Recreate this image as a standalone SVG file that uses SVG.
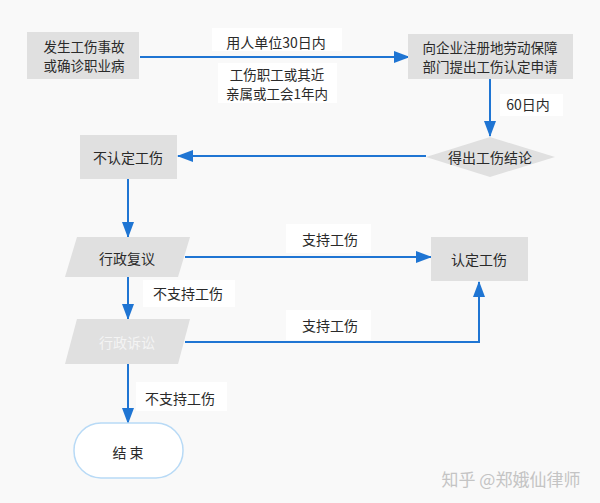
<svg xmlns="http://www.w3.org/2000/svg" width="600" height="503" viewBox="0 0 600 503">
<defs>
<style>
text{font-family:"Noto Sans CJK SC","Liberation Sans",sans-serif;font-size:14px;fill:#2a2a2a;text-anchor:middle;dominant-baseline:central}
.two{font-size:13.5px}
.node{fill:#e0e0e0}
.lblbg{fill:#ffffff}
.edge{fill:none;stroke:#1f75d3;stroke-width:2}
.wm{fill:#c4c4c4;font-size:17px}
.dim{fill:#f4f4f4}
</style>
<marker id="arr" markerUnits="userSpaceOnUse" markerWidth="16" markerHeight="12" refX="15" refY="6" orient="auto">
<path d="M0,0 L16,6 L0,12 Z" fill="#1f75d3"/>
</marker>
</defs>
<rect x="0" y="0" width="600" height="503" fill="#f9f9f9"/>
<g id="connectors">
<path class="edge" d="M140,57 H409" marker-end="url(#arr)"/>
<path class="edge" d="M490,79 V136" marker-end="url(#arr)"/>
<path class="edge" d="M426,156 H178" marker-end="url(#arr)"/>
<path class="edge" d="M128,179 V237" marker-end="url(#arr)"/>
<path class="edge" d="M185,257 H431" marker-end="url(#arr)"/>
<path class="edge" d="M128,277 V319" marker-end="url(#arr)"/>
<path class="edge" d="M185,342 H479 V282" marker-end="url(#arr)"/>
<path class="edge" d="M128,364 V423" marker-end="url(#arr)"/>
</g>
<g id="labels">
<rect class="lblbg" x="212" y="28" width="130" height="23"/>
<text x="276" y="42">用人单位30日内</text>
<rect class="lblbg" x="218" y="63" width="119" height="40"/>
<text class="two" x="277" y="73.5">工伤职工或其近</text>
<text class="two" x="277" y="92.5">亲属或工会1年内</text>
<rect class="lblbg" x="500" y="94" width="63" height="22"/>
<text x="528" y="104">60日内</text>
<rect class="lblbg" x="286" y="224" width="85" height="29"/>
<text x="330" y="239">支持工伤</text>
<rect class="lblbg" x="143" y="280" width="92" height="27"/>
<text x="188" y="293">不支持工伤</text>
<rect class="lblbg" x="286" y="310" width="85" height="30"/>
<text x="330" y="325">支持工伤</text>
<rect class="lblbg" x="136" y="382" width="91" height="29"/>
<text x="180" y="398">不支持工伤</text>
</g>
<g id="n1">
<rect class="node" x="27" y="32" width="112" height="47"/>
<text class="two" x="84" y="46">发生工伤事故</text>
<text class="two" x="84" y="65">或确诊职业病</text>
</g>
<g id="n2">
<rect class="node" x="408" y="34" width="165" height="45"/>
<text class="two" x="490" y="47">向企业注册地劳动保障</text>
<text class="two" x="490" y="66">部门提出工伤认定申请</text>
</g>
<g id="n3">
<polygon class="node" points="426,157 490,137 555,157 490,177"/>
<text x="490" y="157">得出工伤结论</text>
</g>
<g id="n4">
<rect class="node" x="80" y="135" width="97" height="44"/>
<text x="128" y="157">不认定工伤</text>
</g>
<g id="n5">
<polygon class="node" points="77,237 190,237 178,277 65,277"/>
<text x="127" y="258">行政复议</text>
</g>
<g id="n6">
<rect class="node" x="431" y="237" width="97" height="44"/>
<text x="479" y="259">认定工伤</text>
</g>
<g id="n7">
<polygon class="node" points="77,319 190,319 178,364 65,364"/>
<text class="dim" x="127" y="342">行政诉讼</text>
</g>
<g id="n8">
<rect x="74" y="423" width="109" height="55" rx="27" ry="27" fill="#ffffff" stroke="#b8daf6" stroke-width="1.5"/>
<text x="128" y="452">结 束</text>
</g>
<text class="wm" x="511" y="478">知乎 @郑娥仙律师</text>
</svg>
